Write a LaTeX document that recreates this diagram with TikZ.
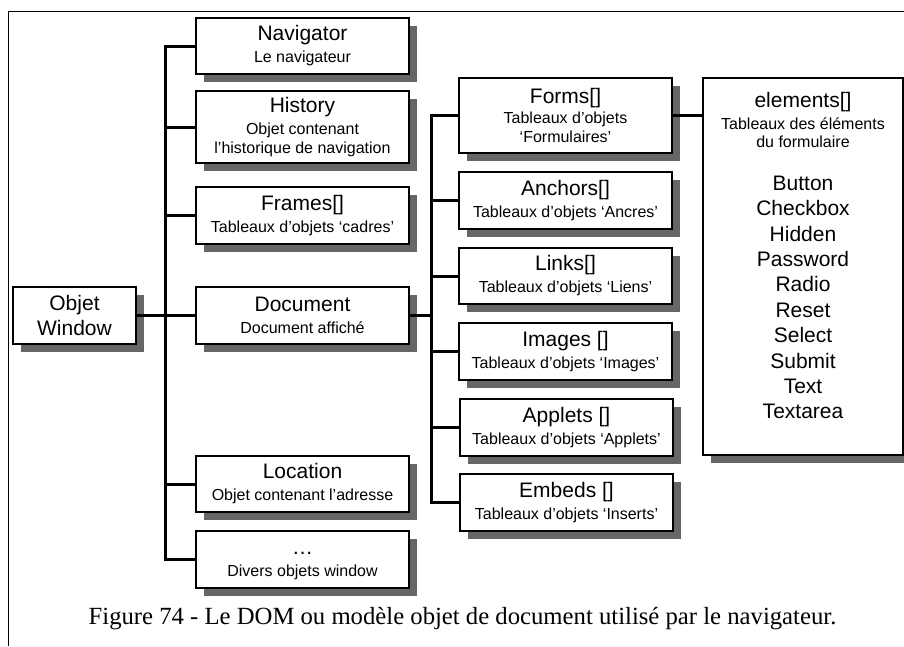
\documentclass[tikz,border=0pt]{standalone}
\usepackage{fontspec}
\setmainfont{Liberation Sans}
\newfontfamily\capfont{Liberation Serif}
\usetikzlibrary{shadows}
\definecolor{shadowgray}{HTML}{666666}
\newcommand\boxtitle[1]{{\fontsize{21}{24}\selectfont #1}}
\begin{document}
\begin{tikzpicture}[x=1pt,y=-1pt,
  objbox/.style={draw=black,line width=1.8pt,fill=white,align=center,inner sep=0pt,
    minimum width=213pt,minimum height=57pt,
    drop shadow={shadow xshift=8pt,shadow yshift=-8pt,fill=shadowgray,opacity=1},
    font=\fontsize{16}{19}\selectfont},
  link/.style={line width=3pt},
  frameline/.style={line width=1pt}]
\useasboundingbox (0,0) rectangle (904,646);
\draw[frameline] (8,646) -- (8,11) -- (904,11);

% column 0
\node[objbox,minimum width=123pt,font=\fontsize{21}{25}\selectfont] (win) at (74.5,315.5) {Objet\\Window};

% column 1
\node[objbox,minimum height=56pt] (nav) at (302.5,46) {\boxtitle{Navigator}\\[3pt]Le navigateur};
\node[objbox,minimum height=72pt] (hist) at (302.5,127) {\boxtitle{History}\\[3pt]Objet contenant\\l’historique de navigation};
\node[objbox] (frames) at (302.5,215.5) {\boxtitle{Frames[]}\\[3pt]Tableaux d’objets ‘cadres’};
\node[objbox] (doc) at (302.5,315.5) {\boxtitle{Document}\\[3pt]Document affiché};
\node[objbox,minimum height=56pt] (loc) at (302.5,484) {\boxtitle{Location}\\[3pt]Objet contenant l’adresse};
\node[objbox] (div) at (302.5,559.5) {\boxtitle{\vphantom{Ng[}…}\\[3pt]Divers objets window};

% column 2
\node[objbox,minimum height=75pt] (forms) at (565.5,115.5) {\boxtitle{Forms[]}\\[1pt]Tableaux d’objets\\‘Formulaires’};
\node[objbox] (anchors) at (565.5,200.5) {\boxtitle{Anchors[]}\\[3pt]Tableaux d’objets ‘Ancres’};
\node[objbox,minimum height=56pt] (links) at (565.5,276) {\boxtitle{Links[]}\\[3pt]Tableaux d’objets ‘Liens’};
\node[objbox] (images) at (565.5,351.5) {\boxtitle{Images []}\\[3pt]Tableaux d’objets ‘Images’};
\node[objbox] (applets) at (566.5,427.5) {\boxtitle{Applets []}\\[3pt]Tableaux d’objets ‘Applets’};
\node[objbox] (embeds) at (566.5,502.5) {\boxtitle{Embeds []}\\[3pt]Tableaux d’objets ‘Inserts’};

% elements
\node[objbox,minimum width=200pt,minimum height=377pt] (elem) at (803,266.5) {};
\node[align=center,inner sep=0pt,font=\fontsize{16}{18}\selectfont] (elemt) at (803,120) {\boxtitle{elements[]}\\[4pt]Tableaux des éléments\\du formulaire};
\node[align=center,inner sep=0pt,font=\fontsize{21}{25.4}\selectfont] (eleml) at (803,297.5) {Button\\Checkbox\\Hidden\\Password\\Radio\\Reset\\Select\\Submit\\Text\\Textarea};

% connectors
\coordinate (t1) at (165,0);
\coordinate (t2) at (431,0);
\draw[link] (win.east) -- (doc.west);
\draw[link] (nav.west) -- (nav.west -| t1) -- (div.west -| t1) -- (div.west);
\draw[link] (hist.west) -- (hist.west -| t1);
\draw[link] (frames.west) -- (frames.west -| t1);
\draw[link] (loc.west) -- (loc.west -| t1);
\draw[link] (doc.east) -- (doc.east -| t2);
\draw[link] (forms.west) -- (forms.west -| t2) -- (embeds.west -| t2) -- (embeds.west);
\draw[link] (anchors.west) -- (anchors.west -| t2);
\draw[link] (links.west) -- (links.west -| t2);
\draw[link] (images.west) -- (images.west -| t2);
\draw[link] (applets.west) -- (applets.west -| t2);
\draw[link] (forms.east) -- (forms.east -| elem.west);

% caption
\node[inner sep=0pt,font=\capfont\fontsize{24.7}{28}\selectfont] (cap) at (462.5,619) {Figure 74 - Le DOM ou modèle objet de document utilisé par le navigateur.};
\end{tikzpicture}
\end{document}
